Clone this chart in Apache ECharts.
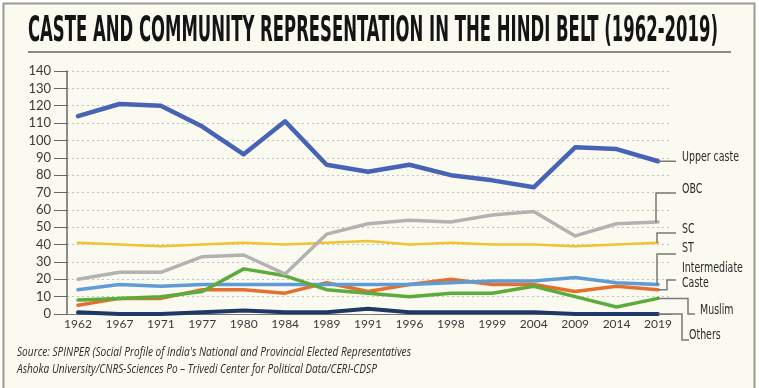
<!DOCTYPE html>
<html>
<head>
<meta charset="utf-8">
<script src="https://cdn.jsdelivr.net/npm/echarts@6/dist/echarts.min.js"></script>
<style>
html,body{margin:0;padding:0;background:#ffffff;}
#chart{width:759px;height:388px;}
</style>
</head>
<body>
<div id="chart"></div>
<script>
// ---- data ----
var titleText = 'CASTE AND COMMUNITY REPRESENTATION IN THE HINDI BELT (1962-2019)';
var sourceLine1 = "Source: SPINPER (Social Profile of India's National and Provincial Elected Representatives";
var sourceLine2 = 'Ashoka University/CNRS-Sciences Po \u2013 Trivedi Center for Political Data/CERI-CDSP';
var years = ['1962','1967','1971','1977','1980','1984','1989','1991','1996','1998','1999','2004','2009','2014','2019'];
var upperCaste   = [114,121,120,108,92,111,86,82,86,80,77,73,96,95,88];
var obc          = [20,24,24,33,34,23,46,52,54,53,57,59,45,52,53];
var sc           = [41,40,39,40,41,40,41,42,40,41,40,40,39,40,41];
var st           = [14,17,16,17,17,17,17,17,17,18,19,19,21,18,17];
var intermediate = [5,9,9,14,14,12,18,13,17,20,17,17,13,16,14];
var muslim       = [8,9,10,13,26,22,14,12,10,12,12,16,10,4,9];
var others       = [1,0,0,1,2,1,1,3,1,1,1,1,0,0,0];
var yTicks = {min:0, max:140, interval:10};

var seriesDefs = [
  {name:'Others', data:others, color:'#1f3868', width:4},
  {name:'Intermediate Caste', data:intermediate, color:'#e56f2c', width:3.5},
  {name:'ST', data:st, color:'#5f9bd8', width:3.5},
  {name:'Muslim', data:muslim, color:'#5cab3c', width:3.5},
  {name:'SC', data:sc, color:'#f2c230', width:2.5},
  {name:'OBC', data:obc, color:'#b2b2b2', width:3.5},
  {name:'Upper caste', data:upperCaste, color:'#4763b6', width:4.5}
];

function measure(text, font){
  var c = document.createElement('canvas').getContext('2d');
  c.font = font;
  return c.measureText(text).width;
}

var chart = echarts.init(document.getElementById('chart'), null, {renderer:'canvas'});
var axisFont = 'Lato, "Open Sans", sans-serif';

var option = {
  backgroundColor:'#ffffff',
  animation:false,
  grid:[
    {left:67, right:87, top:71, bottom:74},
    {left:78, right:101, top:71, bottom:74}
  ],
  xAxis:[
    {gridIndex:0, type:'value', min:0, max:1, show:true,
     axisLine:{show:true, onZero:false, lineStyle:{color:'#777', width:1}},
     axisTick:{show:false}, axisLabel:{show:false}, splitLine:{show:false}},
    {gridIndex:1, type:'category', data:years, boundaryGap:false,
     axisLine:{show:false}, axisTick:{show:false},
     axisLabel:{fontFamily:axisFont, fontSize:12, color:'#3a3a3a', margin:4, interval:0}}
  ],
  yAxis:[
    {gridIndex:0, type:'value', min:yTicks.min, max:yTicks.max, interval:yTicks.interval,
     axisLine:{show:true, lineStyle:{color:'#666', width:1.5}},
     axisTick:{show:true, length:13, lineStyle:{color:'#666', width:1}},
     axisLabel:{fontFamily:axisFont, fontSize:13, color:'#3a3a3a', margin:16},
     splitLine:{show:true, lineStyle:{color:'#c4c4bc', type:[2,3], width:1}}},
    {gridIndex:1, type:'value', min:yTicks.min, max:yTicks.max, interval:yTicks.interval, show:false,
     splitLine:{show:false}}
  ],
  series: seriesDefs.map(function(s){
    return {name:s.name, type:'line', xAxisIndex:1, yAxisIndex:1, data:s.data,
      symbol:'none', smooth:false, lineStyle:{color:s.color, width:s.width, cap:'round', join:'round'},
      itemStyle:{color:s.color}};
  })
};
chart.setOption(option);

// ---- decorations ----
var g = [];
g.push({type:'rect', z:-100, shape:{x:3.5, y:3.5, width:751, height:420},
  style:{fill:'#fbfaf1', stroke:'#9a9a94', lineWidth:2}});

var titleFont = 'bold 36px "DejaVu Sans Condensed", "DejaVu Sans", sans-serif';
var tw = measure(titleText, titleFont);
g.push({type:'text', x:28, y:32, scaleX:690/tw, scaleY:1, originX:0, originY:0,
  style:{text:titleText, font:titleFont, fill:'#141414', align:'left', verticalAlign:'middle'}});
g.push({type:'line', shape:{x1:28, y1:52, x2:731, y2:52}, style:{stroke:'#8a8a84', lineWidth:2}});

var srcFont = 'italic 12px "Open Sans", "Noto Sans", sans-serif';
var sw1 = measure(sourceLine1, srcFont);
var sc1 = 394/sw1;
g.push({type:'text', x:17, y:353, scaleX:sc1, originX:0, originY:0,
  style:{text:sourceLine1, font:srcFont, fill:'#2a2a2a', align:'left', verticalAlign:'middle'}});
g.push({type:'text', x:17, y:370, scaleX:sc1, originX:0, originY:0,
  style:{text:sourceLine2, font:srcFont, fill:'#2a2a2a', align:'left', verticalAlign:'middle'}});

// end points
var last = years.length - 1;
function endPt(arr){ return chart.convertToPixel({gridIndex:1}, [last, arr[last]]); }
var eU = endPt(upperCaste), eO = endPt(obc), eS = endPt(sc), eT = endPt(st),
    eI = endPt(intermediate), eM = endPt(muslim), eX = endPt(others);
var lx = 676;
var conn = [
  [[eU[0], eU[1]], [lx, eU[1]]],
  [[eO[0]-2, eO[1]], [eO[0]-2, 193], [lx, 193]],
  [[eS[0]-1, eS[1]], [eS[0]-1, 233], [lx, 233]],
  [[eT[0]-1, eT[1]], [eT[0]-1, 254], [lx, 254]],
  [[eI[0], eI[1]], [667, eI[1]], [667, 280], [lx, 280]],
  [[eM[0], eM[1]], [688, eM[1]], [688, 314], [695, 314]],
  [[eX[0], eX[1]], [682, eX[1]], [682, 340], [689, 340]]
];
conn.forEach(function(pts){
  g.push({type:'polyline', z:5, shape:{points:pts}, style:{stroke:'#7a7a76', lineWidth:1.5, fill:null}});
});
var labFont = '14px "Liberation Sans Narrow", "DejaVu Sans Condensed", sans-serif';
var labScale = 57 / measure('Upper caste', labFont);
var labs = [
  ['Upper caste', 682, 157],
  ['OBC', 682, 189],
  ['SC', 682, 229],
  ['ST', 682, 248],
  ['Intermediate', 682, 268],
  ['Caste', 682, 283],
  ['Muslim', 700, 310],
  ['Others', 689, 335]
];
labs.forEach(function(l){
  g.push({type:'text', x:l[1], y:l[2], z:5, scaleX:labScale, originX:0, originY:0,
    style:{text:l[0], font:labFont, fill:'#2a2a2a', align:'left', verticalAlign:'middle'}});
});
chart.setOption({graphic:g});
</script>
</body>
</html>
